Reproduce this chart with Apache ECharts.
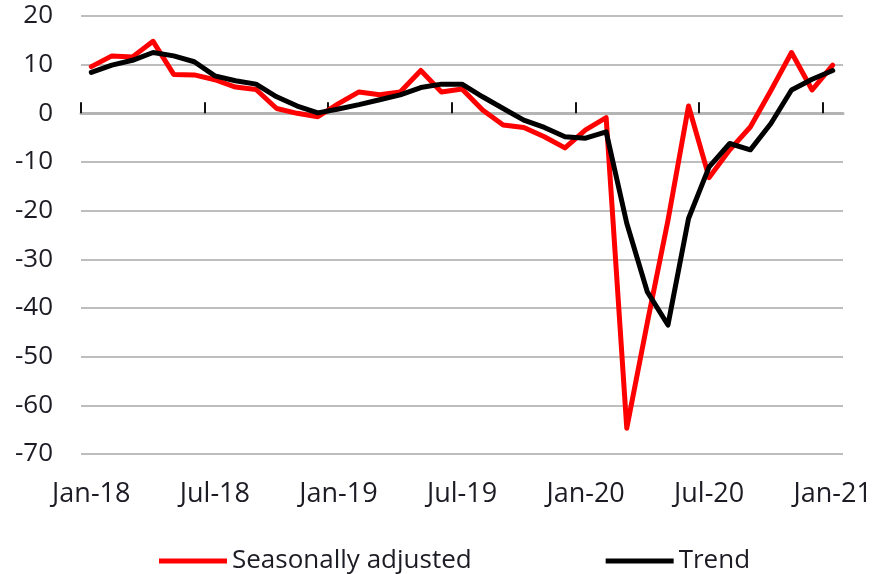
<!DOCTYPE html>
<html>
<head>
<meta charset="utf-8">
<title>Seasonally adjusted vs trend</title>
<script src="https://cdn.jsdelivr.net/npm/echarts@6/dist/echarts.min.js"></script>
<style>
  html, body { margin: 0; padding: 0; background: #fff; }
  #chart { width: 878px; height: 574px; }
</style>
</head>
<body>
<div id="chart"></div>
<script>
// monthly categories, Jan-18 .. Jan-21
const months = [
  'Jan-18', 'Feb-18', 'Mar-18', 'Apr-18', 'May-18', 'Jun-18',
  'Jul-18', 'Aug-18', 'Sep-18', 'Oct-18', 'Nov-18', 'Dec-18',
  'Jan-19', 'Feb-19', 'Mar-19', 'Apr-19', 'May-19', 'Jun-19',
  'Jul-19', 'Aug-19', 'Sep-19', 'Oct-19', 'Nov-19', 'Dec-19',
  'Jan-20', 'Feb-20', 'Mar-20', 'Apr-20', 'May-20', 'Jun-20',
  'Jul-20', 'Aug-20', 'Sep-20', 'Oct-20', 'Nov-20', 'Dec-20',
  'Jan-21',
]

const seasonallyAdjusted = [
  9.6, 11.8, 11.6, 14.8, 8.0, 7.9, 6.9, 5.4, 4.9, 1.0, 0.0, -0.7,
  2.0, 4.4, 3.8, 4.4, 8.8, 4.4, 5.0, 0.7, -2.4, -2.9, -4.8, -7.1,
  -3.4, -0.9, -64.7, -43.0, -22.0, 1.5, -13.2, -7.5, -2.8, 4.7, 12.5, 4.8,
  9.9,
]

const trend = [
  8.4, 9.9, 10.9, 12.5, 11.8, 10.6, 7.7, 6.7, 6.0, 3.4, 1.5, 0.1,
  0.9, 1.8, 2.8, 3.8, 5.3, 6.0, 6.0, 3.4, 1.0, -1.4, -2.9, -4.8,
  -5.1, -3.8, -22.6, -36.7, -43.5, -21.6, -11.0, -6.2, -7.5, -2.1, 4.8, 7.0,
  8.8,
]

// tick marks sit on the month boundaries, every 6 months
const tickMonths = [0, 6, 12, 18, 24, 30, 36]

const seriesNames = ['Seasonally adjusted', 'Trend']
const yMin = -70
const yMax = 20
const yStep = 10

const fontFamily = '"Open Sans", "Noto Sans", sans-serif'
const textColor = '#1c1c24'

const chart = echarts.init(document.getElementById('chart'), null, { renderer: 'canvas' })

chart.setOption({
  animation: false,
  grid: { left: 81, right: 35, top: 16, bottom: 120, containLabel: false },
  legend: {
    data: seriesNames,
    left: 154,
    top: 543,
    icon: 'rect',
    itemWidth: 68,
    itemHeight: 5,
    itemGap: 134,
    textStyle: { color: textColor, fontSize: 26, fontFamily },
  },
  xAxis: [
    {
      // labels along the bottom
      type: 'category',
      data: months,
      position: 'bottom',
      axisLine: { show: false, onZero: false },
      axisTick: { show: false },
      axisLabel: {
        interval: 5,
        margin: 27,
        color: textColor,
        fontSize: 27,
        fontFamily,
      },
      splitLine: { show: false },
    },
    {
      // axis line + ticks sitting on zero, month boundaries as a value scale
      type: 'value',
      min: 0,
      max: months.length,
      interval: 6,
      position: 'bottom',
      axisLine: { show: true, onZero: true, lineStyle: { color: '#b4b4b4', width: 3 } },
      axisTick: {
        show: true,
        inside: true,
        length: 11,
        customValues: tickMonths,
        lineStyle: { color: '#111', width: 2 },
      },
      axisLabel: { show: false },
      splitLine: { show: false },
    },
  ],
  yAxis: {
    type: 'value',
    min: yMin,
    max: yMax,
    interval: yStep,
    axisLine: { show: false },
    axisTick: { show: false },
    axisLabel: { margin: 28, color: textColor, fontSize: 26, fontFamily },
    splitLine: { lineStyle: { color: '#a8a8a8', width: 1.5 } },
  },
  series: [
    {
      name: seriesNames[0],
      type: 'line',
      xAxisIndex: 0,
      data: seasonallyAdjusted,
      symbol: 'none',
      itemStyle: { color: '#ff0000' },
      lineStyle: { color: '#ff0000', width: 5, join: 'round', cap: 'round' },
    },
    {
      name: seriesNames[1],
      type: 'line',
      xAxisIndex: 0,
      data: trend,
      symbol: 'none',
      itemStyle: { color: '#000000' },
      lineStyle: { color: '#000000', width: 5, join: 'round', cap: 'round' },
    },
  ],
})

window.addEventListener('resize', () => chart.resize())
</script>
</body>
</html>
